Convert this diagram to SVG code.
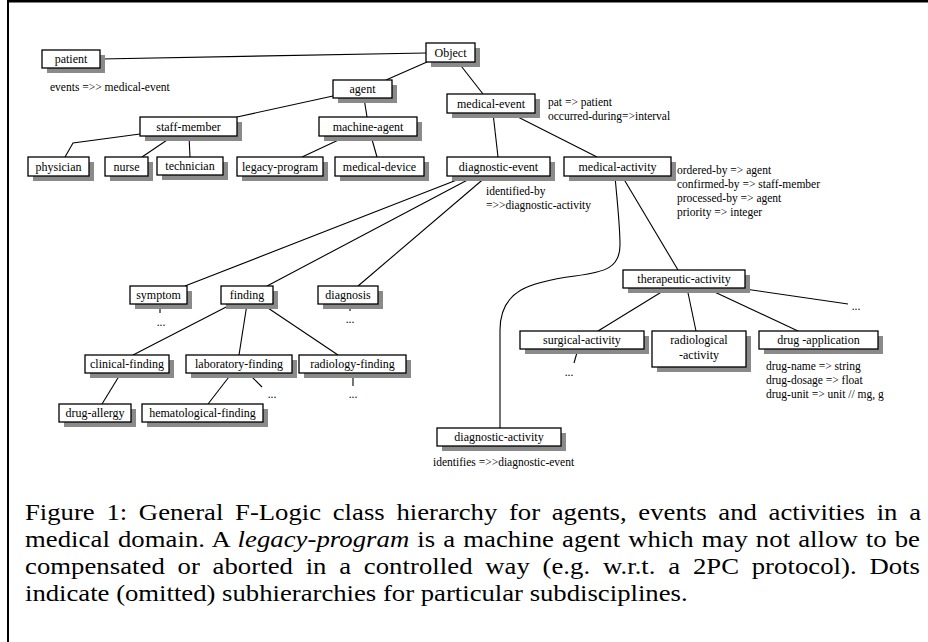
<svg xmlns="http://www.w3.org/2000/svg" width="928" height="642" viewBox="0 0 928 642">
<style>
.sh{fill:#8a8a8a}
.bx{fill:#fff;stroke:#000;stroke-width:1.3}
.t{font-family:"Liberation Serif","Times New Roman",serif;font-size:12px;fill:#000;text-anchor:middle}
.a{font-family:"Liberation Serif","Times New Roman",serif;font-size:11.5px;fill:#000}
.c{font-family:"Liberation Serif","Times New Roman",serif;font-size:23.5px;fill:#000}
#connectors line,#connectors polyline,#connectors path{stroke:#000;stroke-width:1.1;fill:none}
</style>
<rect width="928" height="642" fill="#fff"/>
<line x1="7" y1="1.2" x2="928" y2="1.2" stroke="#000" stroke-width="2.4"/>
<line x1="8" y1="0" x2="8" y2="642" stroke="#000" stroke-width="2"/>

<g id="connectors">
<line x1="100" y1="59" x2="426" y2="53"/>
<line x1="427" y1="62" x2="386" y2="80"/>
<line x1="458" y1="62" x2="483" y2="94"/>
<line x1="333" y1="96" x2="237" y2="117"/>
<line x1="364" y1="98" x2="367" y2="117"/>
<polyline points="140,134 73,143 65,157"/>
<line x1="173" y1="136" x2="142" y2="157"/>
<line x1="189" y1="136" x2="190" y2="157"/>
<line x1="347" y1="136" x2="302" y2="157"/>
<line x1="371" y1="136" x2="377" y2="157"/>
<line x1="493" y1="113" x2="498" y2="157"/>
<line x1="510" y1="113" x2="597" y2="157"/>
<line x1="467" y1="176" x2="185" y2="286"/>
<line x1="475" y1="176" x2="267" y2="286"/>
<line x1="487" y1="176" x2="358" y2="286"/>
<path d="M615,176 C617,200 620,225 620,245 C620,268 605,272 575,276 C530,282 500,290 500,330 L500,428"/>
<line x1="622" y1="176" x2="678" y2="270"/>
<line x1="668" y1="288" x2="598" y2="331"/>
<line x1="687" y1="288" x2="696" y2="331"/>
<line x1="706" y1="288" x2="798" y2="331"/>
<line x1="745" y1="289" x2="848" y2="304"/>
<line x1="232" y1="304" x2="133" y2="355"/>
<line x1="247" y1="304" x2="239" y2="355"/>
<line x1="262" y1="304" x2="338" y2="355"/>
<line x1="121" y1="373" x2="102" y2="404"/>
<line x1="232" y1="373" x2="208" y2="404"/>
<line x1="248" y1="373" x2="262" y2="387"/>
<line x1="160" y1="304" x2="160" y2="313"/>
<line x1="350" y1="304" x2="350" y2="311"/>
<line x1="353" y1="373" x2="353" y2="386"/>
<line x1="578" y1="349" x2="574" y2="363"/>
</g>

<g id="dots" class="a">
<text x="161" y="326" text-anchor="middle">...</text>
<text x="350" y="323" text-anchor="middle">...</text>
<text x="353" y="398" text-anchor="middle">...</text>
<text x="272" y="398" text-anchor="middle">...</text>
<text x="569" y="376" text-anchor="middle">...</text>
<text x="856" y="310" text-anchor="middle">...</text>
</g>

<g id="patient"><rect class="sh" x="47" y="55" width="58" height="18"/><rect class="bx" x="42" y="50" width="58" height="18"/><text class="t" x="71" y="63">patient</text>
<text class="a" x="50" y="91">events =&gt;&gt; medical-event</text></g>
<g id="object"><rect class="sh" x="431" y="48" width="49" height="19"/><rect class="bx" x="426" y="43" width="49" height="19"/><text class="t" x="450.5" y="57">Object</text></g>
<g id="agent"><rect class="sh" x="338" y="85" width="59" height="18"/><rect class="bx" x="333" y="80" width="59" height="18"/><text class="t" x="362.5" y="93">agent</text></g>
<g id="medical-event"><rect class="sh" x="452" y="99" width="88" height="19"/><rect class="bx" x="447" y="94" width="88" height="19"/><text class="t" x="491" y="108">medical-event</text>
<text class="a" x="548" y="106">pat =&gt; patient</text>
<text class="a" x="548" y="120">occurred-during=&gt;interval</text></g>
<g id="staff-member"><rect class="sh" x="145" y="122" width="97" height="19"/><rect class="bx" x="140" y="117" width="97" height="19"/><text class="t" x="188.5" y="131">staff-member</text></g>
<g id="machine-agent"><rect class="sh" x="324" y="122" width="98" height="19"/><rect class="bx" x="319" y="117" width="98" height="19"/><text class="t" x="368" y="131">machine-agent</text></g>
<g id="physician"><rect class="sh" x="33" y="162" width="61" height="19"/><rect class="bx" x="28" y="157" width="61" height="19"/><text class="t" x="58.5" y="171">physician</text></g>
<g id="nurse"><rect class="sh" x="110" y="162" width="43" height="19"/><rect class="bx" x="105" y="157" width="43" height="19"/><text class="t" x="126.5" y="171">nurse</text></g>
<g id="technician"><rect class="sh" x="162" y="162" width="66" height="18"/><rect class="bx" x="157" y="157" width="66" height="18"/><text class="t" x="190" y="170">technician</text></g>
<g id="legacy-program"><rect class="sh" x="242" y="162" width="86" height="19"/><rect class="bx" x="237" y="157" width="86" height="19"/><text class="t" x="280" y="171">legacy-program</text></g>
<g id="medical-device"><rect class="sh" x="340" y="162" width="89" height="19"/><rect class="bx" x="335" y="157" width="89" height="19"/><text class="t" x="379.5" y="171">medical-device</text></g>
<g id="diagnostic-event"><rect class="sh" x="452" y="162" width="103" height="19"/><rect class="bx" x="447" y="157" width="103" height="19"/><text class="t" x="498.5" y="171">diagnostic-event</text>
<text class="a" x="486" y="195">identified-by</text>
<text class="a" x="486" y="209">=&gt;&gt;diagnostic-activity</text></g>
<g id="medical-activity"><rect class="sh" x="569" y="162" width="107" height="19"/><rect class="bx" x="564" y="157" width="107" height="19"/><text class="t" x="617.5" y="171">medical-activity</text>
<text class="a" x="677" y="174">ordered-by =&gt; agent</text>
<text class="a" x="677" y="188">confirmed-by =&gt; staff-member</text>
<text class="a" x="677" y="202">processed-by =&gt; agent</text>
<text class="a" x="677" y="216">priority =&gt; integer</text></g>
<g id="therapeutic-activity"><rect class="sh" x="628" y="275" width="122" height="18"/><rect class="bx" x="623" y="270" width="122" height="18"/><text class="t" x="684" y="283">therapeutic-activity</text></g>
<g id="surgical-activity"><rect class="sh" x="525" y="336" width="124" height="18"/><rect class="bx" x="520" y="331" width="124" height="18"/><text class="t" x="582" y="344">surgical-activity</text></g>
<g id="radiological-activity"><rect class="sh" x="657" y="336" width="94" height="36"/><rect class="bx" x="652" y="331" width="94" height="36"/><text class="t" x="699" y="344">radiological</text><text class="t" x="699" y="359">-activity</text></g>
<g id="drug-application"><rect class="sh" x="764" y="336" width="119" height="18"/><rect class="bx" x="759" y="331" width="119" height="18"/><text class="t" x="818.5" y="344">drug -application</text>
<text class="a" x="766" y="370">drug-name =&gt; string</text>
<text class="a" x="766" y="384">drug-dosage =&gt; float</text>
<text class="a" x="766" y="398">drug-unit =&gt; unit // mg, g</text></g>
<g id="symptom"><rect class="sh" x="135" y="291" width="57" height="18"/><rect class="bx" x="130" y="286" width="57" height="18"/><text class="t" x="158.5" y="299">symptom</text></g>
<g id="finding"><rect class="sh" x="226" y="291" width="52" height="18"/><rect class="bx" x="221" y="286" width="52" height="18"/><text class="t" x="247" y="299">finding</text></g>
<g id="diagnosis"><rect class="sh" x="323" y="291" width="60" height="18"/><rect class="bx" x="318" y="286" width="60" height="18"/><text class="t" x="348" y="299">diagnosis</text></g>
<g id="clinical-finding"><rect class="sh" x="90" y="360" width="84" height="18"/><rect class="bx" x="85" y="355" width="84" height="18"/><text class="t" x="127" y="368">clinical-finding</text></g>
<g id="laboratory-finding"><rect class="sh" x="191" y="360" width="106" height="18"/><rect class="bx" x="186" y="355" width="106" height="18"/><text class="t" x="239" y="368">laboratory-finding</text></g>
<g id="radiology-finding"><rect class="sh" x="304" y="360" width="107" height="18"/><rect class="bx" x="299" y="355" width="107" height="18"/><text class="t" x="352.5" y="368">radiology-finding</text></g>
<g id="drug-allergy"><rect class="sh" x="64" y="409" width="72" height="18"/><rect class="bx" x="59" y="404" width="72" height="18"/><text class="t" x="95" y="417">drug-allergy</text></g>
<g id="hematological-finding"><rect class="sh" x="147" y="409" width="121" height="18"/><rect class="bx" x="142" y="404" width="121" height="18"/><text class="t" x="202.5" y="417">hematological-finding</text></g>
<g id="diagnostic-activity"><rect class="sh" x="442" y="433" width="124" height="18"/><rect class="bx" x="437" y="428" width="124" height="18"/><text class="t" x="499" y="441">diagnostic-activity</text>
<text class="a" x="433" y="466" font-size="11">identifies =&gt;&gt;diagnostic-event</text></g>

<g id="caption" class="c" transform="scale(1.1362,1)">
<text x="22" y="520" word-spacing="4.4" textLength="788.6" lengthAdjust="spacing">Figure 1: General F-Logic class hierarchy for agents, events and activities in a</text>
<text x="22" y="547" word-spacing="1.15" textLength="787.7" lengthAdjust="spacing">medical domain. A <tspan font-style="italic">legacy-program</tspan> is a machine agent which may not allow to be</text>
<text x="22" y="574" word-spacing="5.27" textLength="787.7" lengthAdjust="spacing">compensated or aborted in a controlled way (e.g. w.r.t. a 2PC protocol). Dots</text>
<text x="22" y="601">indicate (omitted) subhierarchies for particular subdisciplines.</text>
</g>
</svg>
